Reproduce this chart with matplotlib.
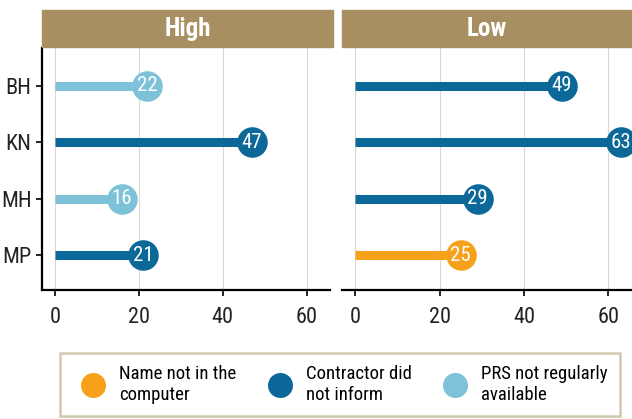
import matplotlib
matplotlib.use('Agg')
from matplotlib import pyplot as plt
from matplotlib.lines import Line2D
from matplotlib.patches import Rectangle

plt.rcParams['font.family'] = ['Roboto Condensed', 'DejaVu Sans']

states = ['BH', 'KN', 'MH', 'MP']
panels = ['High', 'Low']
high_vals = [22, 47, 16, 21]
high_reason = ['PRS', 'Contractor', 'PRS', 'Contractor']
low_vals = [49, 63, 29, 25]
low_reason = ['Contractor', 'Contractor', 'Contractor', 'Name']

reason_keys = ['Name', 'Contractor', 'PRS']
reason_labels = {'Name': 'Name not in the\ncomputer',
                 'Contractor': 'Contractor did\nnot inform',
                 'PRS': 'PRS not regularly\navailable'}
colors = {'Name': '#F7A11A', 'Contractor': '#0B6898', 'PRS': '#7DC2D8'}
strip_col = '#A88F62'

W, H = 632, 419
fig = plt.figure(figsize=(W / 100, H / 100), dpi=100)

def px_box(x0, x1, ytop, ybot):
    return [x0 / W, (H - ybot) / H, (x1 - x0) / W, (ybot - ytop) / H]

ax_l = fig.add_axes(px_box(42, 330, 48, 290))
ax_r = fig.add_axes(px_box(342, 632, 48, 290))

for ax, title, vals, reasons, x0, x1 in [
        (ax_l, panels[0], high_vals, high_reason, 42, 333),
        (ax_r, panels[1], low_vals, low_reason, 342, 632)]:
    ypos = list(range(len(states)))
    for y, v, r in zip(ypos, vals, reasons):
        c = colors[r]
        ax.plot([0, v], [y, y], color=c, lw=6.5, solid_capstyle='butt', zorder=2)
        ax.plot(v, y, 'o', ms=22, color=c, mec='none', zorder=3, clip_on=False)
        ax.text(v, y, str(v), color='white', ha='center', va='center',
                fontsize=15, zorder=4)
    ax.set_xlim(-3.1, 65.6)
    ax.set_ylim(3.62, -0.67)
    ax.set_xticks([0, 20, 40, 60])
    ax.grid(axis='x', color='#d8d8d8', lw=0.8)
    ax.set_axisbelow(True)
    ax.set_yticks(ypos)
    ax.set_yticklabels(states)
    ax.tick_params(labelsize=16, length=4, width=1.2, color='black', labelcolor='#222222')
    ax.tick_params(axis='x', pad=8)
    for s in ['top', 'right']:
        ax.spines[s].set_visible(False)
    ax.spines['bottom'].set_linewidth(1.6)
    ax.spines['left'].set_linewidth(1.6)
    # strip header
    fig.patches.append(Rectangle((x0 / W, (H - 47) / H), (x1 - x0) / W, 37 / H,
                                 transform=fig.transFigure, color=strip_col, zorder=0))
    fig.text((x0 + x1) / 2 / W, (H - 29) / H, title, color='white', ha='center',
             va='center', fontsize=18, fontweight='bold')

ax_r.spines['left'].set_visible(False)
ax_r.tick_params(axis='y', left=False, labelleft=False)

handles = [Line2D([], [], ls='none', marker='o', ms=18, color=colors[k], mec='none')
           for k in reason_keys]
leg = fig.legend(handles, [reason_labels[k] for k in reason_keys],
                 ncol=3, loc='lower left', mode='expand',
                 bbox_to_anchor=(60 / W, (H - 416) / H, 560 / W, 68 / H),
                 borderaxespad=0, fontsize=13.5, frameon=True, fancybox=False,
                 edgecolor='#C9B99A', handletextpad=0.3, columnspacing=1.0,
                 borderpad=0.65, labelspacing=0.2, handlelength=2.2)
leg.get_frame().set_linewidth(1.8)

fig.savefig('out.png', dpi=100)
